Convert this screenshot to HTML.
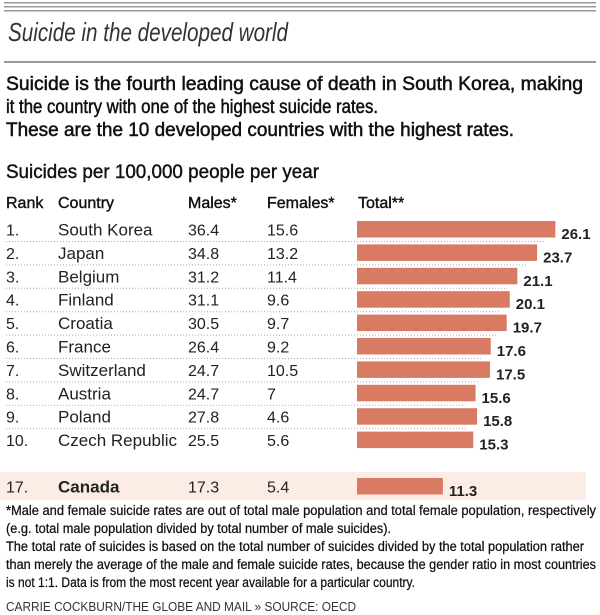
<!DOCTYPE html>
<html><head><meta charset="utf-8"><style>
html,body{margin:0;padding:0;background:#fff;}
svg{display:block;font-family:"Liberation Sans",sans-serif;}
</style></head><body>
<svg id="chart" width="600" height="615" viewBox="0 0 600 615">
<g>
<rect x="4" y="2" width="592" height="1.5" fill="#999"/>
<rect x="4" y="6" width="592" height="1.5" fill="#999"/>
<rect x="4" y="10" width="592" height="1.5" fill="#999"/>
</g>
<text x="8" y="41" font-size="26" font-style="italic" fill="#333" textLength="280" lengthAdjust="spacingAndGlyphs">Suicide in the developed world</text>
<rect x="4" y="61" width="592" height="2" fill="#999"/>
<g font-size="19" fill="#111" stroke="#111" stroke-width="0.5">
<text x="6" y="90" textLength="577" lengthAdjust="spacingAndGlyphs">Suicide is the fourth leading cause of death in South Korea, making</text>
<text x="6" y="113" textLength="372" lengthAdjust="spacingAndGlyphs">it the country with one of the highest suicide rates.</text>
<text x="6" y="136" textLength="508" lengthAdjust="spacingAndGlyphs">These are the 10 developed countries with the highest rates.</text>
</g>
<text x="6" y="178" font-size="19" fill="#111" stroke="#111" stroke-width="0.4" textLength="313" lengthAdjust="spacingAndGlyphs">Suicides per 100,000 people per year</text>
<g font-size="16" fill="#111" stroke="#111" stroke-width="0.4">
<text x="6" y="208">Rank</text><text x="58" y="208">Country</text>
<text x="188" y="208">Males*</text><text x="267" y="208">Females*</text><text x="358" y="208">Total**</text>
</g>
<rect x="0" y="472" width="586" height="28" fill="#fbece6"/>
<g id="rows"></g>
<g font-size="13.5" fill="#111" stroke="#111" stroke-width="0.25">
<text x="6" y="515" textLength="590" lengthAdjust="spacingAndGlyphs">*Male and female suicide rates are out of total male population and total female population, respectively</text>
<text x="6" y="533" textLength="385" lengthAdjust="spacingAndGlyphs">(e.g. total male population divided by total number of male suicides).</text>
<text x="6" y="551" textLength="578" lengthAdjust="spacingAndGlyphs">The total rate of suicides is based on the total number of suicides divided by the total population rather</text>
<text x="6" y="569" textLength="590" lengthAdjust="spacingAndGlyphs">than merely the average of the male and female suicide rates, because the gender ratio in most countries</text>
<text x="6" y="587" textLength="409" lengthAdjust="spacingAndGlyphs">is not 1:1. Data is from the most recent year available for a particular country.</text>
</g>
<text x="6" y="611" font-size="13" fill="#333" textLength="350" lengthAdjust="spacingAndGlyphs">CARRIE COCKBURN/THE GLOBE AND MAIL  »  SOURCE: OECD</text>
</svg>
<script>
const ranks = ["1.","2.","3.","4.","5.","6.","7.","8.","9.","10.","17."];
const countries = ["South Korea","Japan","Belgium","Finland","Croatia","France","Switzerland","Austria","Poland","Czech Republic","Canada"];
const males = [36.4,34.8,31.2,31.1,30.5,26.4,24.7,24.7,27.8,25.5,17.3];
const females = [15.6,13.2,11.4,9.6,9.7,9.2,10.5,7,4.6,5.6,5.4];
const totals = [26.1,23.7,21.1,20.1,19.7,17.6,17.5,15.6,15.8,15.3,11.3];

const NS = "http://www.w3.org/2000/svg";
const g = document.getElementById("rows");
const x0 = 357, pxPerUnit = 7.6;
function xScale(v){ return x0 + v * pxPerUnit; }
function rowTop(i){ return i < 10 ? 221 + i * 23.4 : 478; }
function mk(tag, attrs, parent){
  const e = document.createElementNS(NS, tag);
  for (const k in attrs) e.setAttribute(k, attrs[k]);
  parent.appendChild(e); return e;
}
ranks.forEach((r, i) => {
  const top = rowTop(i), cy = top + 8.5;
  const row = mk("g", {}, g);
  
  
  const base = cy + 6;
  const t1 = mk("text", {x:6, y:base, "font-size":16, fill:"#222"}, row); t1.textContent = r;
  const t2 = mk("text", {x:58, y:base, "font-size":17, fill:"#222", "font-weight": i===10 ? "bold" : "normal"}, row); t2.textContent = countries[i];
  const t3 = mk("text", {x:188, y:base, "font-size":16, fill:"#222"}, row); t3.textContent = males[i];
  const t4 = mk("text", {x:267, y:base, "font-size":16, fill:"#222"}, row); t4.textContent = females[i];
  const bar = mk("rect", {x:x0, y:top, width:xScale(totals[i]) - x0, height:16.5, fill:"#d97a63"}, row);
  
  
  const lbl = mk("text", {x:xScale(totals[i]) + 6, y:top + 18, "font-size":15, "font-weight":"bold", fill:"#222"}, row);
  lbl.textContent = totals[i];
  
  
  if (i < 9) {
    const ln = mk("line", {x1:6, x2:xScale(totals[i]) - 10, y1:top + 20.5, y2:top + 20.5, stroke:"#aaa", "stroke-width":1, "stroke-dasharray":"1 2"}, row);
    
    
  }
});
</script>
</body></html>
